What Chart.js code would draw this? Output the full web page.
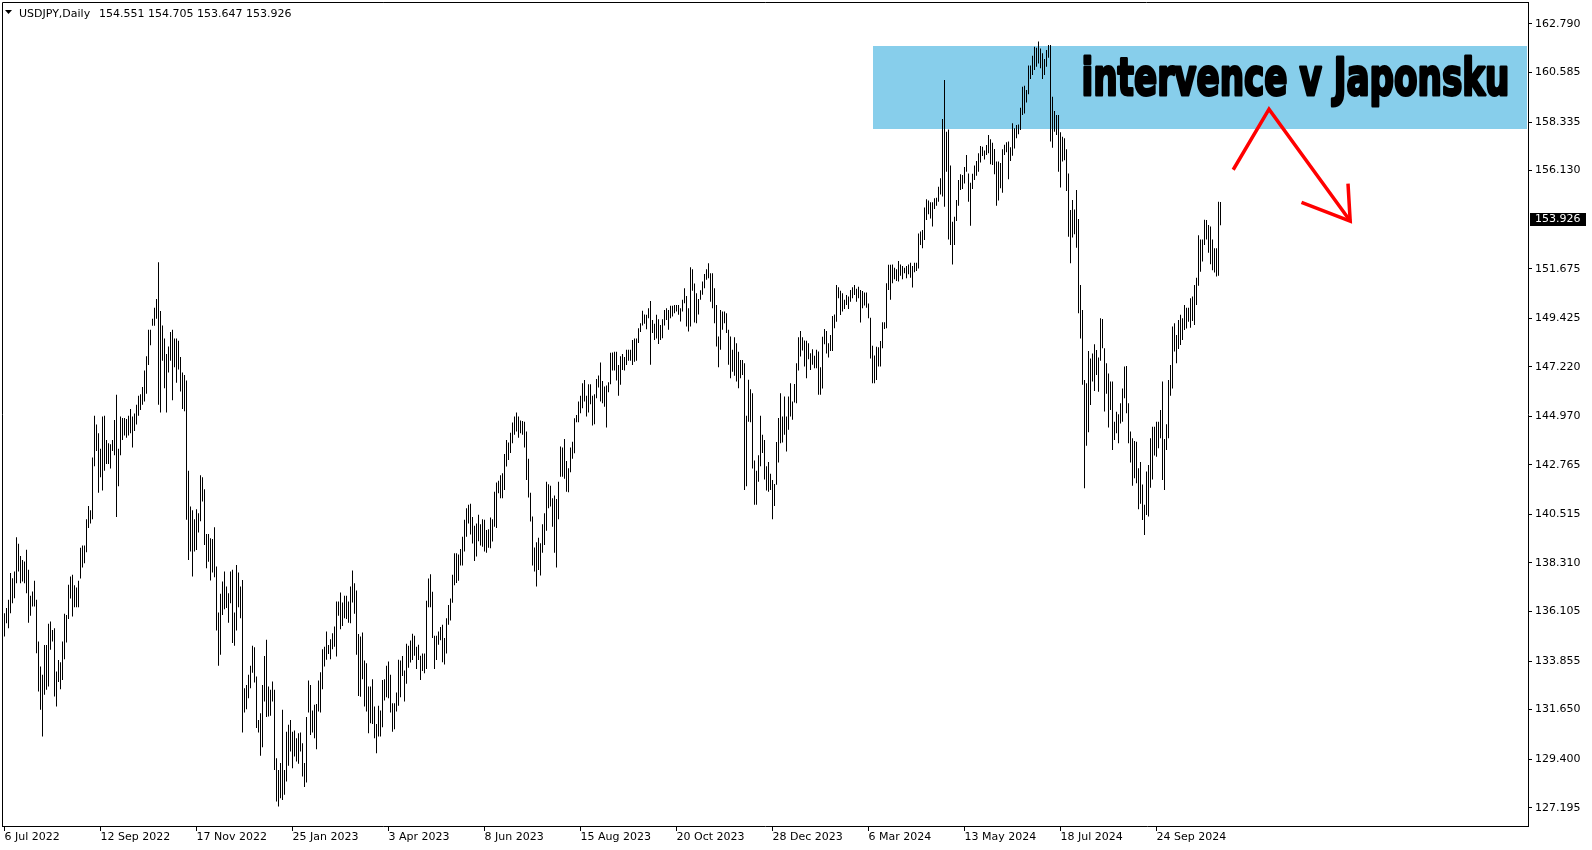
<!DOCTYPE html>
<html>
<head>
<meta charset="utf-8">
<title>USDJPY, Daily</title>
<script src="https://cdn.jsdelivr.net/npm/chart.js@4.4.1/dist/chart.umd.min.js"></script>
<style>
  html, body { margin: 0; padding: 0; background: #fff; }
  canvas { display: block; }
</style>
</head>
<body>
<canvas id="chart" width="1592" height="850"></canvas>
<script>
// USDJPY daily bars, 6 Jul 2022 - 7 Nov 2024, one value per trading day
const highs = [
  // 2022 Jul
  136.03,136.26,136.64,137.85,137.62,137.92,139.48,139.18,138.63,138.45,138.38,138.91,138.0,136.82,137.01,137.5,136.64,134.74,
  // Aug
  133.61,133.23,134.59,134.59,135.55,135.65,135.27,135.35,133.38,133.9,133.8,134.74,136.0,135.95,137.32,137.7,137.77,137.3,137.2,137.5,139.0,139.1,139.1,
  // Sep
  140.3,140.9,140.7,143.1,145.0,144.6,144.2,143.5,144.96,145.0,143.9,143.75,143.7,143.9,144.8,145.95,143.5,144.96,144.9,144.9,144.85,145.0,
  // Oct
  145.3,144.96,145.1,145.5,145.9,145.97,146.3,147.05,147.7,148.9,148.9,149.4,149.9,150.3,151.97,149.76,149.1,148.5,147.8,148.14,148.8,
  // Nov
  148.9,148.5,148.5,148.4,147.66,146.96,146.85,146.6,142.5,140.87,140.7,140.3,140.75,140.57,142.3,142.2,141.66,139.63,139.63,139.43,139.4,139.93,
  // Dec
  138.15,136.06,136.91,137.47,137.92,137.24,136.94,137.92,138.0,136.06,138.22,137.88,137.24,137.54,132.62,132.77,133.23,133.64,134.55,134.48,133.15,
  // 2023 Jan
  131.18,131.49,132.77,134.09,134.82,132.7,132.55,132.93,132.55,129.44,128.91,129.22,131.64,128.91,130.65,130.96,131.18,130.65,130.7,130.35,130.58,130.61,
  // Feb
  130.12,129.22,131.31,132.97,132.77,131.61,131.87,131.91,132.97,133.35,134.39,134.51,135.2,134.59,134.85,135.12,135.42,136.56,136.56,136.97,
  // Mar
  136.51,136.82,136.82,136.56,137.24,137.97,137.39,137.06,135.09,134.97,135.15,133.88,133.76,132.7,132.7,133.03,131.79,131.0,131.82,131.61,133.0,133.03,133.64,
  // Apr
  133.83,133.23,131.94,131.94,132.43,133.91,133.88,134.09,133.43,134.64,134.55,134.79,135.1,135.0,134.5,134.6,134.1,134.2,134.2,136.6,
  // May
  137.6,137.8,137.0,135.0,135.0,135.2,135.4,135.5,134.9,135.8,136.4,136.7,137.77,138.75,138.75,138.7,138.95,139.5,140.27,140.8,140.95,141.0,140.4,
  // Jun
  140.0,140.1,140.5,140.07,140.3,140.27,139.81,139.84,140.37,140.3,141.55,141.96,142.04,142.3,142.38,143.26,143.9,143.78,144.23,144.69,144.96,145.14,
  // Jul
  144.96,144.78,144.76,144.73,144.28,143.04,141.5,140.42,139.01,139.25,139.46,139.21,140.07,140.57,142.0,141.89,141.82,141.25,141.37,141.22,142.0,
  // Aug
  143.6,143.55,143.94,142.94,142.61,143.55,143.82,144.88,145.03,145.64,145.91,146.47,146.62,145.91,146.43,146.43,145.91,145.97,146.67,146.82,147.41,146.58,146.32,
  // Sep
  146.37,146.52,147.86,147.87,147.9,147.9,147.3,147.7,147.8,147.66,148.0,148.0,148.0,148.44,148.5,148.5,148.97,149.2,149.77,149.6,149.58,
  // Oct
  149.88,150.21,149.35,149.17,149.58,149.38,149.12,149.38,149.8,149.88,149.8,149.99,149.99,150.03,150.03,150.03,149.88,150.26,150.79,150.44,149.88,151.74,
  // Nov
  151.65,151.0,150.56,150.3,150.7,151.09,151.44,151.65,151.92,151.47,151.47,150.79,150.03,148.6,149.8,149.73,149.73,149.65,148.9,148.6,147.99,148.56,
  // Dec
  148.29,147.9,147.53,147.53,147.38,145.0,146.63,146.2,146.02,142.96,142.5,143.2,145.0,144.13,143.9,142.7,142.9,142.36,142.08,141.9,
  // 2024 Jan
  143.8,144.9,146.02,144.96,145.87,144.96,145.87,146.47,145.64,146.44,147.38,148.56,148.85,148.56,148.41,148.4,148.29,147.84,148.02,147.72,147.99,147.91,
  // Feb
  147.2,148.59,148.94,148.85,148.29,148.67,149.53,149.6,150.94,150.83,150.68,150.56,150.26,150.48,150.41,150.71,150.83,150.94,150.76,150.86,150.71,
  // Mar
  150.66,150.6,150.6,150.1,149.45,148.18,147.73,148.13,148.11,148.39,149.24,149.24,151.01,151.85,151.85,151.87,151.72,151.65,152.03,151.87,151.8,
  // Apr
  151.72,151.8,151.87,151.95,151.8,151.95,151.95,153.28,153.36,153.43,154.45,154.83,154.77,154.69,154.69,154.87,154.9,155.4,155.78,158.48,160.25,157.9,
  // May
  158.0,156.36,153.81,154.04,154.8,155.7,155.96,155.93,156.3,156.84,156.0,155.58,155.99,156.36,156.57,156.92,157.25,157.22,157.04,157.29,157.75,157.55,157.4,
  // Jun
  157.11,156.54,156.54,156.48,157.1,157.3,157.42,157.45,157.19,158.28,158.05,158.2,158.23,158.99,159.94,159.99,159.79,160.9,160.9,161.35,
  // Jul
  161.76,161.71,161.99,161.68,161.46,161.2,161.61,161.84,161.84,159.49,158.84,158.66,158.66,157.87,157.67,157.6,157.1,156.0,154.34,154.8,154.37,155.25,153.93,
  // Aug
  150.94,149.8,146.62,146.47,147.94,147.6,147.83,148.24,147.98,147.64,149.42,149.39,148.06,147.38,146.92,146.55,146.55,144.73,145.18,145.06,145.56,146.24,
  // Sep
  147.23,147.26,145.56,144.28,143.97,143.85,143.82,142.61,142.9,141.88,140.95,142.46,142.76,143.97,144.5,144.5,144.73,144.73,145.26,146.55,143.94,
  // Oct
  144.61,146.62,147.3,149.05,149.2,148.67,149.35,149.58,149.42,150.03,149.9,149.9,150.33,150.41,150.94,151.27,153.2,153.0,153.0,153.9,153.89,153.66,153.59,
  // Nov
  153.0,152.6,152.6,154.72,154.705
];

const lows = [
  // 2022 Jul
  134.97,135.57,135.35,136.03,136.48,136.71,137.39,137.92,137.39,137.47,137.39,136.94,135.6,135.91,136.33,136.33,134.21,132.47,
  // Aug
  131.64,130.43,132.32,132.55,132.7,134.37,134.74,132.25,131.79,132.9,132.58,133.0,133.94,134.7,135.76,136.7,135.88,136.3,136.3,136.3,137.6,138.1,138.3,
  // Sep
  138.8,139.9,140.1,140.3,142.7,143.4,141.5,142.2,141.6,142.5,142.8,142.8,142.6,143.4,143.2,140.4,141.8,143.2,143.9,144.1,144.0,144.1,
  // Oct
  144.2,143.55,144.3,144.6,145.0,145.26,145.5,145.64,146.0,147.3,148.2,149.08,149.08,149.4,145.5,145.14,147.5,146.25,145.14,146.96,147.5,
  // Nov
  145.7,147.2,146.5,147.1,146.1,145.3,145.2,140.27,138.45,138.83,137.7,138.83,138.9,139.7,140.2,141.1,139.13,138.07,138.37,137.51,137.88,137.66,
  // Dec
  135.24,133.64,134.14,135.95,136.21,136.26,135.6,136.48,134.67,134.55,135.24,136.3,135.8,130.61,131.52,131.67,132.17,132.62,133.33,132.88,130.81,
  // 2023 Jan
  130.61,129.55,129.94,132.02,131.31,131.34,131.37,132.02,128.91,127.48,127.25,127.63,127.55,127.78,128.38,129.1,129.75,128.99,129.52,129.29,129.19,129.75,
  // Feb
  128.61,128.13,128.34,131.52,130.5,130.61,130.35,129.85,131.56,131.52,132.58,133.61,133.91,134.18,133.94,134.39,134.51,134.06,135.91,135.3,
  // Mar
  135.45,135.8,135.76,135.6,135.57,136.51,136.0,134.14,132.27,132.24,133.03,131.79,131.56,130.58,131.03,131.0,130.35,129.67,130.43,130.43,130.85,132.06,132.21,
  // Apr
  132.17,131.52,130.65,130.76,131.56,131.82,132.21,133.18,132.02,132.82,133.55,133.79,133.9,134.1,133.5,133.9,133.0,133.4,133.3,133.5,
  // May
  136.3,136.3,134.9,133.5,133.9,134.6,134.8,133.8,133.7,134.2,135.5,135.7,136.5,137.3,137.4,137.5,138.2,138.2,138.83,139.5,140.1,139.6,139.2,
  // Jun
  138.4,138.6,139.3,139.1,139.05,138.83,138.78,139.0,138.98,139.28,139.96,139.9,141.48,141.25,141.25,141.63,142.69,142.99,143.3,143.75,144.13,144.28,
  // Jul
  144.0,144.2,144.13,143.55,142.08,141.28,140.19,138.19,137.92,137.24,137.99,137.74,138.78,139.13,139.77,140.8,140.87,139.96,138.78,138.1,140.3,
  // Aug
  142.23,142.23,142.13,141.55,141.52,142.43,143.04,143.29,144.7,144.7,145.11,145.34,145.64,144.96,145.15,145.52,144.55,144.61,145.79,146.28,145.64,145.56,145.41,
  // Sep
  144.46,146.06,146.43,147.05,147.05,146.6,145.9,146.4,147.08,147.05,147.3,147.5,147.5,147.3,147.45,147.5,148.3,148.8,149.1,149.17,148.93,
  // Oct
  149.43,147.31,148.75,148.44,148.5,148.26,148.44,148.52,149.1,149.35,148.9,149.43,149.5,149.65,149.73,149.58,149.28,149.73,150.11,149.05,148.82,149.05,
  // Nov
  150.68,149.23,149.2,149.6,150.26,150.49,150.79,151.17,151.24,150.18,149.88,149.2,148.14,147.2,148.0,148.9,149.2,148.75,147.31,146.7,147.0,146.81,
  // Dec
  146.55,146.25,146.7,146.85,141.63,141.8,144.73,144.7,142.6,140.95,140.95,142.0,142.7,143.3,142.1,141.6,141.55,141.63,140.3,140.9,
  // 2024 Jan
  141.86,142.87,143.75,143.78,144.13,143.37,144.36,144.96,144.81,145.6,145.57,147.05,147.69,147.96,147.23,146.7,147.56,147.08,147.31,147.16,147.16,145.95,
  // Feb
  145.95,146.24,148.24,147.83,147.64,147.94,147.94,148.97,149.27,150.33,149.57,149.73,149.85,150.03,149.85,150.18,150.33,150.48,150.18,150.33,149.23,
  // Mar
  149.88,150.0,149.9,149.42,147.6,146.47,146.47,146.62,147.23,147.23,148.06,148.94,148.97,150.71,150.26,151.01,151.2,151.12,151.09,151.36,151.2,
  // Apr
  151.47,151.24,151.42,151.27,150.82,151.51,151.57,151.69,152.75,152.6,152.98,153.89,154.15,153.96,153.59,154.39,154.54,154.72,155.05,154.95,154.49,156.08,
  // May
  153.0,152.75,151.87,152.75,153.84,154.54,155.25,155.3,155.55,156.08,154.72,153.63,155.3,155.7,155.9,156.08,156.5,156.8,156.64,156.84,156.92,156.42,156.39,
  // Jun
  155.96,154.54,154.77,155.33,155.13,156.84,156.96,155.74,156.57,156.81,157.14,157.6,157.78,157.98,158.66,158.73,159.23,159.6,160.29,160.47,
  // Jul
  160.7,160.85,161.0,160.78,160.29,160.47,160.85,161.26,157.45,157.17,157.9,157.75,156.08,155.36,156.54,156.6,155.2,153.13,151.92,153.09,153.24,152.63,149.65,
  // Aug
  148.5,146.4,141.7,143.64,144.25,145.49,146.55,146.12,146.85,146.09,147.49,148.06,145.19,146.0,144.46,145.26,143.44,143.9,144.2,143.75,144.65,144.73,
  // Sep
  145.79,145.11,143.75,142.87,141.82,142.16,141.93,140.75,141.0,140.26,139.58,140.49,140.42,141.73,142.1,143.19,143.14,143.52,143.97,142.08,141.63,
  // Oct
  143.44,143.97,145.91,146.24,147.91,147.38,148.03,148.21,148.44,148.89,148.96,149.27,148.99,149.3,149.12,150.03,150.9,151.54,152.0,152.75,153.0,152.4,151.88,
  // Nov
  151.6,151.5,151.32,151.36,153.647
];

// date labels, one every 48 bars
const dateTicks = ['6 Jul 2022', '12 Sep 2022', '17 Nov 2022', '25 Jan 2023', '3 Apr 2023', '8 Jun 2023',
  '15 Aug 2023', '20 Oct 2023', '28 Dec 2023', '6 Mar 2024', '13 May 2024', '18 Jul 2024', '24 Sep 2024'];
const tickStep = 48;

const priceTicks = [127.195, 129.400, 131.650, 133.855, 136.105, 138.310, 140.515, 142.765,
  144.970, 147.220, 149.425, 151.675, 156.130, 158.335, 160.585, 162.790];

// open, high, low, close of the last bar
const lastBar = [154.551, 154.705, 153.647, 153.926];
const symbol = 'USDJPY,Daily';

// drawings put on the chart (bar index, price)
const zone = { from: 434.5, top: 161.79, bottom: 158.02 };
const zoneText = 'intervence v Japonsku';
const zoneTextAt = { x: 538.5, y: 159.56, width: 428 };
const arrowLine = [[614.35, 156.17], [632.25, 158.92], [672.85, 153.84]];
const arrowHead = [[648.5, 154.69], [672.85, 153.84], [671.75, 155.54]];

const n = Math.min(highs.length, lows.length);
const bars = [];
for (let i = 0; i < n; i++) {
  bars.push({ x: i, y: [lows[i], highs[i]] });
}

const font = 'DejaVu Sans';

const drawings = {
  id: 'drawings',
  beforeDatasetsDraw(chart) {
    const { ctx, chartArea, scales } = chart;
    const x = scales.x, y = scales.y;
    ctx.save();
    ctx.fillStyle = '#87CEEB';
    const left = Math.round(x.getPixelForValue(zone.from));
    const top = Math.round(y.getPixelForValue(zone.top));
    const bottom = Math.round(y.getPixelForValue(zone.bottom));
    ctx.fillRect(left, top, chartArea.right - 1 - left, bottom - top);
    ctx.restore();
  },
  afterDatasetsDraw(chart) {
    const { ctx, scales } = chart;
    const x = scales.x, y = scales.y;

    // label inside the zone
    ctx.save();
    ctx.font = 'bold 51px "' + font + '"';
    const w = ctx.measureText(zoneText).width;
    ctx.translate(x.getPixelForValue(zoneTextAt.x), y.getPixelForValue(zoneTextAt.y));
    ctx.scale(zoneTextAt.width / w, 1);
    ctx.fillStyle = '#000';
    ctx.strokeStyle = '#000';
    ctx.lineWidth = 3;
    ctx.lineJoin = 'round';
    ctx.textBaseline = 'alphabetic';
    ctx.fillText(zoneText, 0, 0);
    ctx.strokeText(zoneText, 0, 0);
    ctx.restore();

    // red arrow
    ctx.save();
    ctx.strokeStyle = '#FF0000';
    ctx.lineWidth = 3.5;
    ctx.lineJoin = 'miter';
    ctx.lineCap = 'butt';
    [arrowLine, arrowHead].forEach(pts => {
      ctx.beginPath();
      pts.forEach((p, k) => {
        const px = x.getPixelForValue(p[0]), py = y.getPixelForValue(p[1]);
        if (k === 0) ctx.moveTo(px, py); else ctx.lineTo(px, py);
      });
      ctx.stroke();
    });
    ctx.restore();
  },
  afterDraw(chart) {
    const { ctx, chartArea, scales } = chart;
    const y = scales.y;
    ctx.save();
    // frame, left and top
    ctx.strokeStyle = '#000';
    ctx.lineWidth = 1;
    ctx.beginPath();
    ctx.moveTo(chartArea.left + 0.5, chartArea.bottom);
    ctx.lineTo(chartArea.left + 0.5, chartArea.top + 0.5);
    ctx.lineTo(chartArea.right, chartArea.top + 0.5);
    ctx.stroke();

    // header
    ctx.fillStyle = '#000';
    ctx.beginPath();
    ctx.moveTo(5, 10);
    ctx.lineTo(12, 10);
    ctx.lineTo(8.5, 14);
    ctx.closePath();
    ctx.fill();
    ctx.font = '11px "' + font + '"';
    ctx.textBaseline = 'alphabetic';
    ctx.fillText(symbol, 19, 17);
    ctx.fillText(lastBar.map(v => v.toFixed(3)).join(' '), 99, 17);

    // last price tag
    const py = Math.round(y.getPixelForValue(lastBar[3]));
    ctx.fillRect(chartArea.right + 2, py - 6, 56, 13);
    ctx.fillStyle = '#fff';
    ctx.textBaseline = 'middle';
    ctx.fillText(lastBar[3].toFixed(3), chartArea.right + 7, py + 0.5);
    ctx.restore();
  }
};

new Chart(document.getElementById('chart'), {
  type: 'bar',
  data: {
    datasets: [{
      data: bars,
      backgroundColor: '#000',
      borderWidth: 0,
      inflateAmount: 0,
      barThickness: 1
    }]
  },
  options: {
    responsive: false,
    animation: false,
    devicePixelRatio: 1,
    events: [],
    layout: { padding: { left: 2, top: 2, right: 0, bottom: 0 } },
    plugins: { legend: { display: false }, tooltip: { enabled: false } },
    scales: {
      x: {
        type: 'linear',
        offset: false,
        min: -1.25,
        max: 761.75,
        afterBuildTicks: s => { s.ticks = dateTicks.map((_, k) => ({ value: k * tickStep })); },
        afterFit: s => { s.height = 24; s.paddingLeft = 0; s.paddingRight = 0; },
        grid: { display: true, drawOnChartArea: false, drawTicks: true, tickLength: 5, color: '#000', offset: false },
        border: { display: true, color: '#000' },
        ticks: {
          autoSkip: false, maxRotation: 0, align: 'start', padding: 0, color: '#000',
          font: { family: font, size: 11 },
          callback: (v, idx) => dateTicks[idx]
        }
      },
      y: {
        position: 'right',
        min: 126.364,
        max: 163.789,
        afterBuildTicks: s => { s.ticks = priceTicks.map(v => ({ value: v })); },
        afterFit: s => { s.width = 64; s.paddingTop = 0; s.paddingBottom = 0; },
        grid: { display: true, drawOnChartArea: false, drawTicks: true, tickLength: 4, color: '#000' },
        border: { display: true, color: '#000' },
        ticks: {
          autoSkip: false, padding: 3, color: '#000',
          font: { family: font, size: 11 },
          callback: v => Number(v).toFixed(3)
        }
      }
    }
  },
  plugins: [drawings]
});
</script>
</body>
</html>
